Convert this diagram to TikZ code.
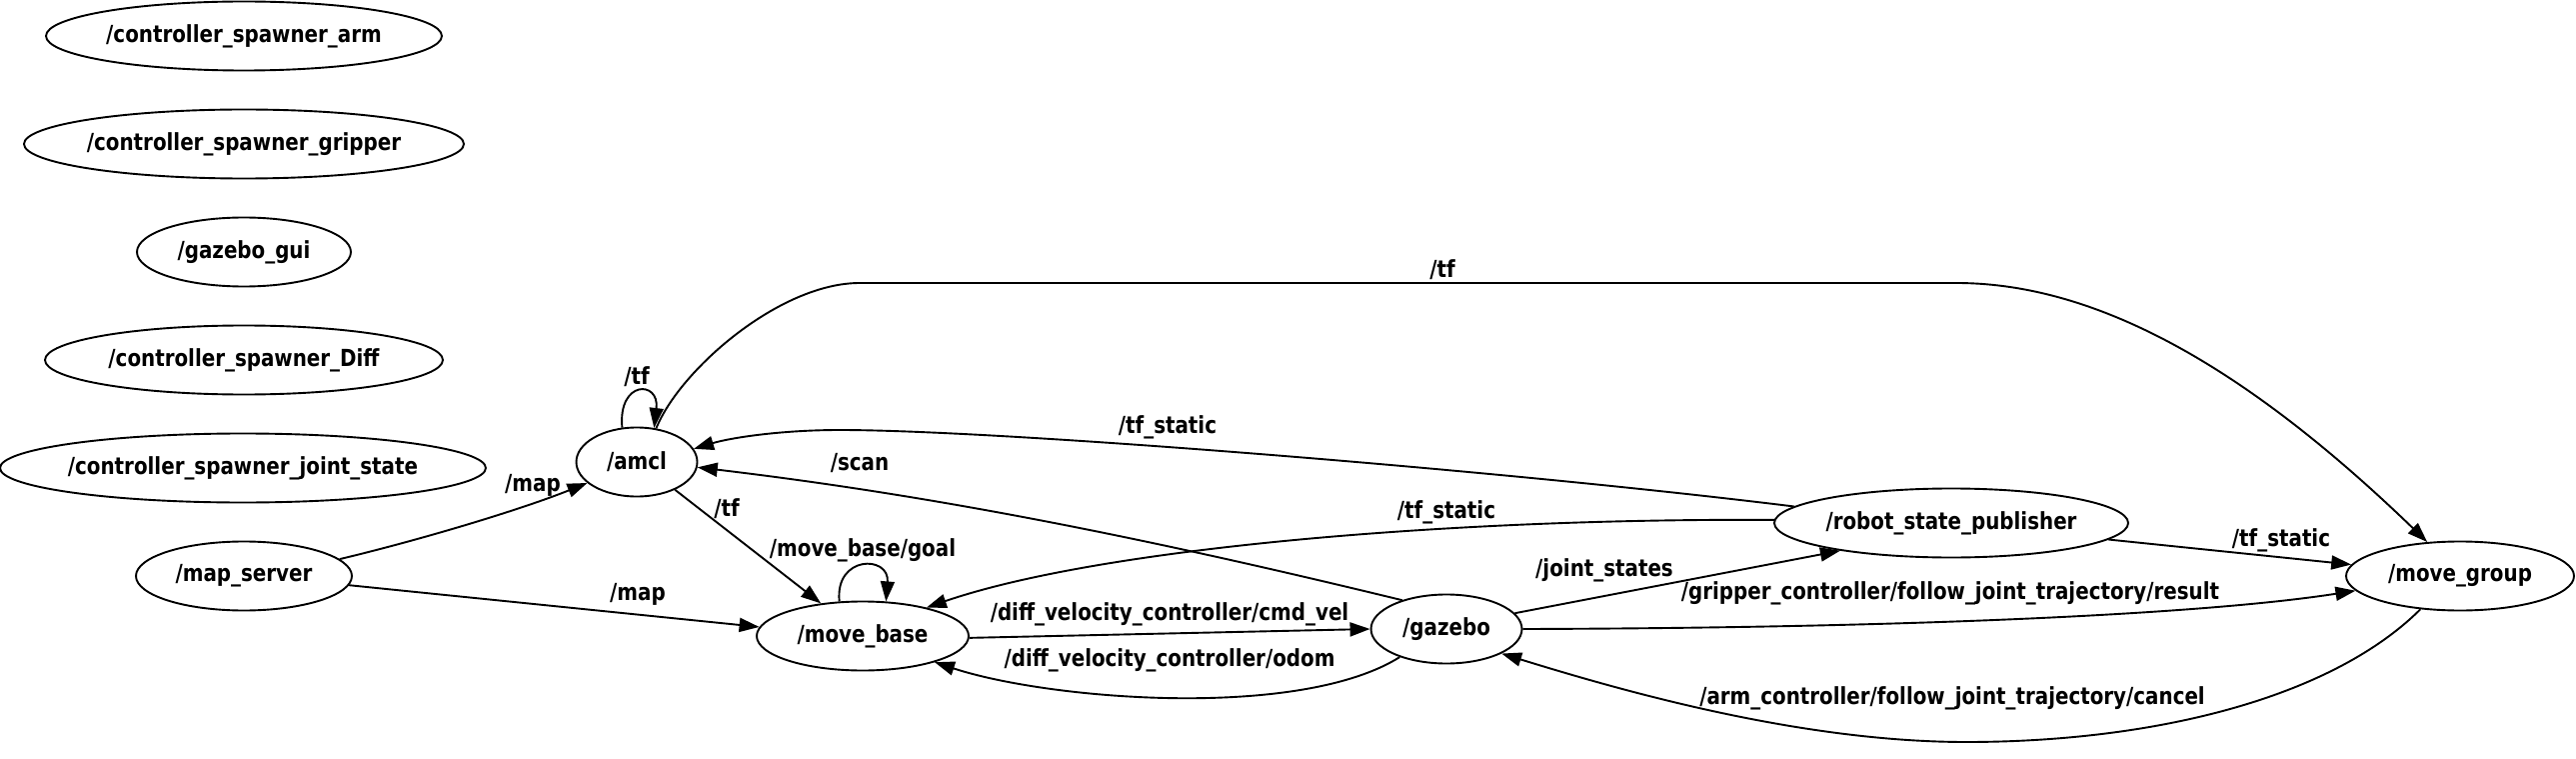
\documentclass[tikz,border=0pt]{standalone}
\usepackage{fontspec}
\setmainfont{DejaVu Sans}[FakeStretch=0.845]
\usetikzlibrary{shapes.geometric,arrows.meta}
\newcommand{\zw}[1]{\makebox[0pt][c]{#1}}
\begin{document}
\begin{tikzpicture}[x=1pt,y=-1pt,
  nd/.style={draw, ellipse, line width=1.9pt, minimum height=69pt, inner sep=0pt,
    font=\fontsize{23.5}{27}\selectfont\bfseries},
  lb/.style={font=\fontsize{23.5}{27}\selectfont\bfseries, inner sep=0pt},
  ed/.style={line width=1.9pt, -{Triangle[length=20pt,width=14pt]}}]
\useasboundingbox (0,0) rectangle (2577,759);
% nodes
\node[nd, minimum width=396pt] (arm) at (244,36) {\zw{/controller\_spawner\_arm}};
\node[nd, minimum width=440pt] (grip) at (244,144) {\zw{/controller\_spawner\_gripper}};
\node[nd, minimum width=214pt] (gui) at (244,252) {\zw{/gazebo\_gui}};
\node[nd, minimum width=398pt] (diff) at (244,360) {\zw{/controller\_spawner\_Diff}};
\node[nd, minimum width=486pt] (js) at (243,468) {\zw{/controller\_spawner\_joint\_state}};
\node[nd, minimum width=216pt] (ms) at (244,576) {\zw{/map\_server}};
\node[nd, minimum width=121pt] (amcl) at (637,462) {\zw{/amcl}};
\node[nd, minimum width=212pt] (mb) at (863,636) {\zw{/move\_base}};
\node[nd, minimum width=151pt] (gz) at (1447,629) {\zw{/gazebo}};
\node[nd, minimum width=354pt] (rsp) at (1952,523) {\zw{/robot\_state\_publisher}};
\node[nd, minimum width=228pt] (mg) at (2461,576) {\zw{/move\_group}};
% edges
\draw[ed] (amcl.113) .. controls (618,380) and (660,380) .. (amcl.63);
\draw[ed] (ms.10) .. controls (420,540) and (520,510) .. (amcl.203);
\draw[ed] (amcl.60) .. controls (680,370) and (780,283) .. (860,283) -- (1957,283)
  .. controls (2100,283) and (2250,370) .. (mg.134);
\draw[ed] (rsp.174) .. controls (1500,470) and (1000,430) .. (840,430)
  .. controls (780,430) and (730,438) .. (amcl.13);
\draw[ed] (gz.147) .. controls (1151,539) and (939,496) .. (amcl.355);
\draw[ed] (amcl.324) -- (mb.142);
\draw[ed] (mb.124) .. controls (835,555) and (890,555) .. (mb.56);
\draw[ed] (ms.355) -- (mb.175);
\draw[ed] (rsp.179) .. controls (1450,518) and (1100,548) .. (mb.24);
\draw[ed] (mb.359) -- (gz.180);
\draw[ed] (gz.211) .. controls (1300,720) and (1050,700) .. (mb.340);
\draw[ed] (gz.13) -- (rsp.194);
\draw[ed] (gz.0) .. controls (1900,628) and (2200,615) .. (mg.188);
\draw[ed] (mg.220) .. controls (2330,700) and (2150,742) .. (1967,742)
  .. controls (1800,742) and (1620,690) .. (gz.336);
\draw[ed] (rsp.354) -- (mg.174);
% labels
\node[lb] (l1) at (637,377) {/tf};
\node[lb] (l2) at (533,485) {/map};
\node[lb] (l3) at (1443,270) {/tf};
\node[lb] (l4) at (1168,427) {/tf\_static};
\node[lb] (l5) at (860,463) {/scan};
\node[lb] (l6) at (727,509) {/tf};
\node[lb] (l7) at (1447,512) {/tf\_static};
\node[lb] (l8) at (863,550) {/move\_base/goal};
\node[lb] (l9) at (638,594) {/map};
\node[lb] (l10) at (1605,570) {/joint\_states};
\node[lb] (l11) at (2282,540) {/tf\_static};
\node[lb] (l12) at (1951,593) {/gripper\_controller/follow\_joint\_trajectory/result};
\node[lb] (l13) at (1170,614) {/diff\_velocity\_controller/cmd\_vel};
\node[lb] (l14) at (1170,660) {/diff\_velocity\_controller/odom};
\node[lb] (l15) at (1953,698) {/arm\_controller/follow\_joint\_trajectory/cancel};
\end{tikzpicture}
\end{document}
